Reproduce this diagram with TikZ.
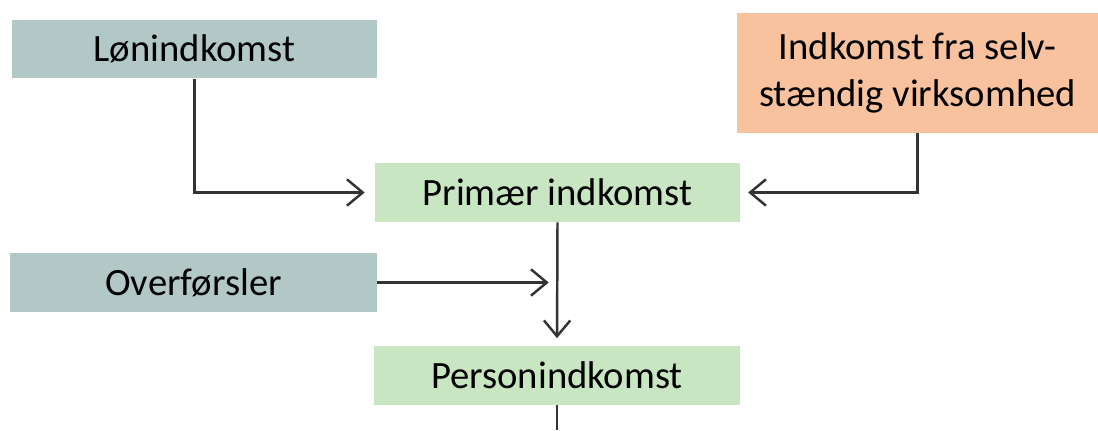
\documentclass[tikz,border=0pt]{standalone}
\usepackage{fontspec}
\setmainfont{Carlito}
\usetikzlibrary{arrows.meta}

\definecolor{boxgray}{HTML}{B2C8C6}
\definecolor{boxorange}{HTML}{F9C29E}
\definecolor{boxgreen}{HTML}{C8E6C2}
\definecolor{linegray}{HTML}{333333}

\tikzset{box/.style={rectangle,inner sep=0pt,minimum height=1.18cm,minimum width=7.3cm,
    align=center,font=\fontsize{22}{27}\selectfont},
  flow/.style={draw=linegray,line width=1.4pt,-{Straight Barb[length=9pt,width=15pt]}}}

\begin{document}
\begin{tikzpicture}[x=0.02cm,y=-0.02cm]
   \useasboundingbox (0,0) rectangle (1098,430);

   \node[box,fill=boxgray] (lon) at (194.5,49) {Lønindkomst};
   \node[box,fill=boxorange,minimum width=7.22cm,minimum height=2.4cm] (selv) at (917.5,73) {Indkomst fra selv-\\stændig virksomhed};
   \node[box,fill=boxgreen] (prim) at (557.5,192.5) {Primær indkomst};
   \node[box,fill=boxgray,minimum width=7.34cm] (over) at (193.5,282.5) {Overførsler};
   \node[box,fill=boxgreen,minimum width=7.32cm] (pers) at (557,375) {Personindkomst};
   \coordinate (ned) at (557,430);

   \draw[flow,shorten >=5.7pt] (lon.south) |- (prim.west);
   \draw[flow,shorten >=4.5pt] (selv.south) |- (prim.east);
   \draw[flow,shorten >=5pt] (over.east) -- (over.east -| prim.south);
   \draw[flow,shorten >=4pt] (prim.south) -- (pers.north);
   \draw[linegray,line width=1.4pt] (pers.south) -- (ned);
  \end{tikzpicture}
\end{document}
